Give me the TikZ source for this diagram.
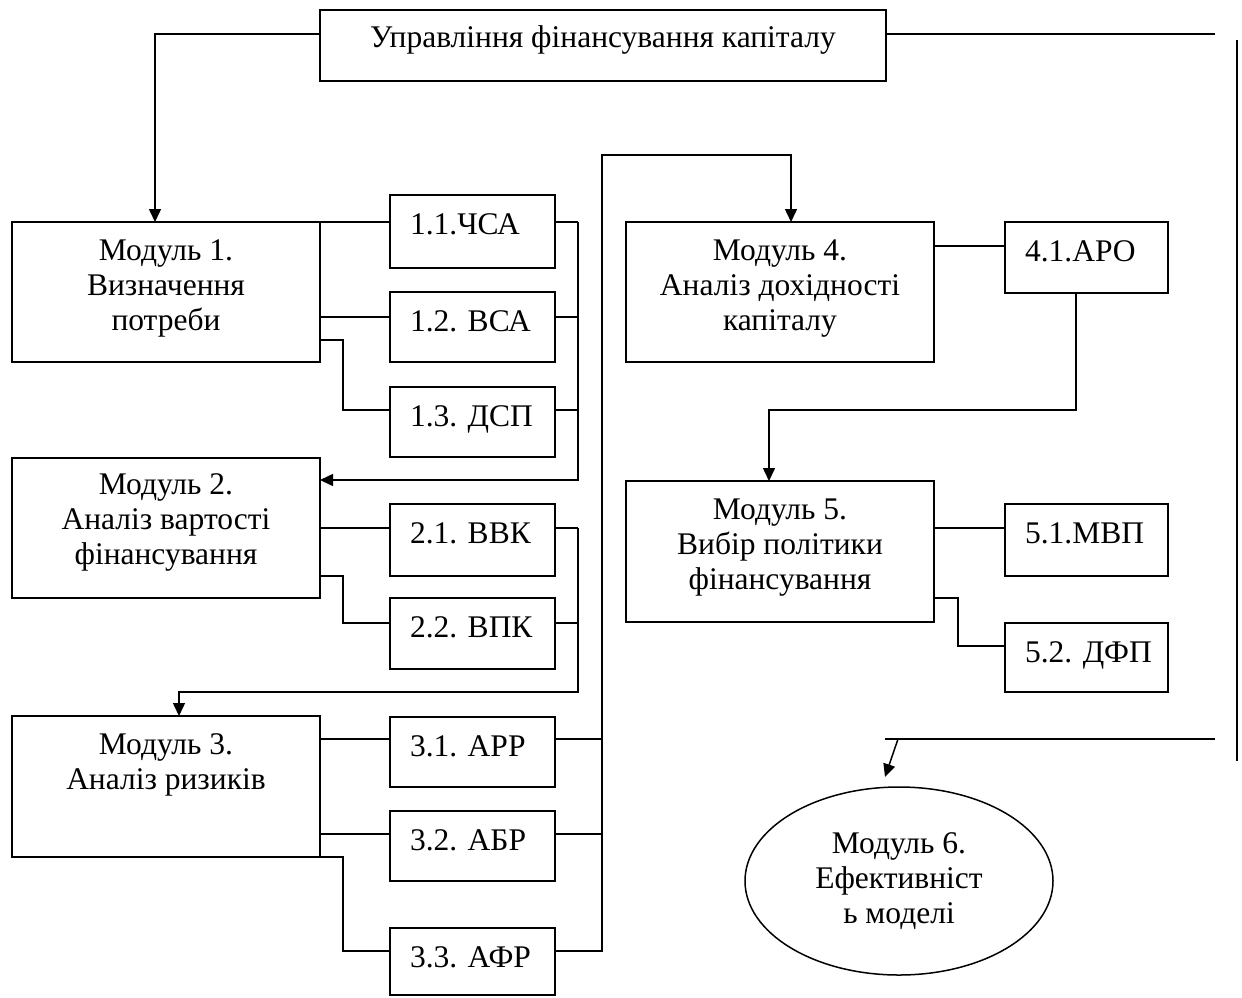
\documentclass[tikz,border=0pt]{standalone}
\usepackage{fontspec}
\setmainfont{Liberation Serif}
\usetikzlibrary{arrows.meta,shapes.geometric}
\newcommand{\modtext}[4]{\parbox[c][#1][t]{#2}{\vspace*{#3}\centering #4\par}}
\newcommand{\subtext}[3]{\parbox[c][#1][t]{#2}{\vspace*{19pt}\hspace*{20pt}#3\par}}
\begin{document}
\begin{tikzpicture}[x=1pt,y=-1pt,
  every node/.style={font=\fontsize{31.5}{35}\selectfont},
  boxnode/.style={draw,line width=1.5pt,inner sep=0pt,outer sep=0pt,rectangle},
  ovalnode/.style={draw,line width=1.5pt,inner sep=0pt,outer sep=0pt,ellipse,align=center},
  conn/.style={line width=1.5pt},
  arr/.style={line width=1.5pt,-{Triangle[length=13pt,width=12pt]}}]
\useasboundingbox (0,0) rectangle (1242,997);
% top box
\node[boxnode] (top) at (603,45.5) {\modtext{71pt}{566pt}{16pt}{Управління фінансування капіталу}};
% modules
\node[boxnode] (m1) at (166,292) {\modtext{140pt}{308pt}{18pt}{Модуль 1.\\Визначення\\потреби}};
\node[boxnode] (m2) at (166,528) {\modtext{140pt}{308pt}{16pt}{Модуль 2.\\Аналіз вартості\\фінансування}};
\node[boxnode] (m3) at (166,786.5) {\modtext{141pt}{308pt}{18pt}{Модуль 3.\\Аналіз ризиків}};
\node[boxnode] (m4) at (780,292) {\modtext{140pt}{308pt}{18pt}{Модуль 4.\\Аналіз дохідності\\капіталу}};
\node[boxnode] (m5) at (780,551.5) {\modtext{141pt}{308pt}{18pt}{Модуль 5.\\Вибір політики\\фінансування}};
\node[ovalnode,minimum width=308pt,minimum height=188pt] (m6) at (899,881) {Модуль 6.\\Ефективніст\\ь моделі};
% sub boxes
\node[boxnode] (b11) at (472.5,231.5) {\subtext{73pt}{165pt}{1.1.ЧСА}};
\node[boxnode] (b12) at (472.5,327) {\subtext{70pt}{165pt}{1.2. ВСА}};
\node[boxnode] (b13) at (472.5,422) {\subtext{70pt}{165pt}{1.3. ДСП}};
\node[boxnode] (b21) at (472.5,540) {\subtext{72pt}{165pt}{2.1. ВВК}};
\node[boxnode] (b22) at (472.5,633.5) {\subtext{71pt}{165pt}{2.2. ВПК}};
\node[boxnode] (b31) at (472.5,752) {\subtext{70pt}{165pt}{3.1. АРР}};
\node[boxnode] (b32) at (472.5,846) {\subtext{70pt}{165pt}{3.2. АБР}};
\node[boxnode] (b33) at (472.5,961.5) {\subtext{67pt}{165pt}{3.3. АФР}};
\node[boxnode] (b41) at (1086.5,257.5) {\subtext{71pt}{163pt}{4.1.АРО}};
\node[boxnode] (b51) at (1086.5,540) {\subtext{72pt}{163pt}{5.1.МВП}};
\node[boxnode] (b52) at (1086.5,657.5) {\subtext{69pt}{163pt}{5.2. ДФП}};
% junction coordinates
\coordinate (tl) at (155,34);
\coordinate (tr) at (1215,34);
\coordinate (vr1) at (1237,40);
\coordinate (vr2) at (1237,761);
\coordinate (br1) at (1215,739);
\coordinate (br2) at (885,739);
\coordinate (ba) at (898,739);
\coordinate (bt) at (885,777);
\coordinate (busA) at (578,222);
\coordinate (busB) at (578,528);
\coordinate (busC) at (602,951);
\coordinate (k1) at (343,340);
\coordinate (k2) at (343,576);
\coordinate (k3) at (343,857);
\coordinate (k5) at (958,598);
\coordinate (turn2) at (179,692);
\coordinate (turn3) at (791,155);
\coordinate (turn4) at (769,410);
% top connectors
\draw[arr] (top.west |- tl) -| (m1.north -| tl);
\draw[conn] (top.east |- tr) -- (tr);
\draw[conn] (vr1) -- (vr2);
\draw[conn] (br1) -- (br2);
\draw[arr] (ba) -- (bt);
% module 1
\draw[conn] (m1.north east) -- (b11.west |- m1.north east);
\draw[conn] (m1.east |- 0,317) -- (b12.west |- 0,317);
\draw[conn] (m1.east |- k1) -- (k1) |- (b13.west |- 0,410);
\draw[conn] (b11.east |- busA) -- (busA);
\draw[conn] (b12.east |- 0,317) -- (578,317);
\draw[conn] (b13.east |- 0,410) -- (578,410);
\draw[arr] (busA) |- (m2.east |- 0,480);
% module 2
\draw[conn] (m2.east |- busB) -- (b21.west |- busB);
\draw[conn] (m2.east |- k2) -- (k2) |- (b22.west |- 0,623);
\draw[conn] (b21.east |- busB) -- (busB);
\draw[conn] (b22.east |- 0,623) -- (578,623);
\draw[arr] (busB) |- (turn2) -- (m3.north -| turn2);
% module 3
\draw[conn] (m3.east |- 0,739) -- (b31.west |- 0,739);
\draw[conn] (m3.east |- 0,834) -- (b32.west |- 0,834);
\draw[conn] (m3.south east) -- (k3) |- (b33.west |- busC);
\draw[conn] (b31.east |- 0,739) -- (602,739);
\draw[conn] (b32.east |- 0,834) -- (602,834);
\draw[arr] (b33.east |- busC) -- (busC) |- (turn3) -- (m4.north -| turn3);
% module 4
\draw[conn] (m4.east |- 0,246) -- (b41.west |- 0,246);
\draw[arr] (b41.south -| 1076,0) |- (turn4) -- (m5.north -| turn4);
% module 5
\draw[conn] (m5.east |- 0,528) -- (b51.west |- 0,528);
\draw[conn] (m5.east |- k5) -- (k5) |- (b52.west |- 0,646);
\end{tikzpicture}
\end{document}
